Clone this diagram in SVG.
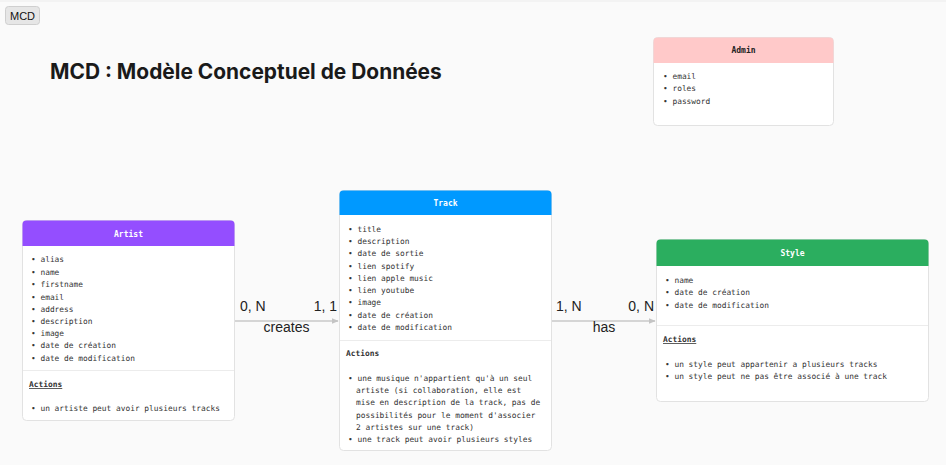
<svg xmlns="http://www.w3.org/2000/svg" width="946" height="465" viewBox="0 0 946 465">
<defs>
<marker id="arr" viewBox="0 0 10 10" refX="9" refY="5" markerWidth="7" markerHeight="7" orient="auto" markerUnits="userSpaceOnUse"><path d="M0,1 L10,5 L0,9 z" fill="#c4c4c4"/></marker>
</defs>
<style>
.card{fill:#fff;stroke:#e2e2e2;stroke-width:1}
.div{stroke:#ececec;stroke-width:1}
.hd{font-family:"DejaVu Sans Mono","Liberation Mono",monospace;font-size:8px;font-weight:bold;text-anchor:middle}
.it{font-family:"DejaVu Sans Mono","Liberation Mono",monospace;font-size:7.85px;fill:#333}
.act{font-family:"DejaVu Sans Mono","Liberation Mono",monospace;font-size:7.9px;font-weight:bold;fill:#333}
.u{text-decoration:underline}
.lbl{font-family:"Liberation Sans",Arial,sans-serif;font-size:14px;fill:#222}
.conn{stroke:#c8c8c8;stroke-width:1.5;fill:none}
</style>
<rect x="0" y="0" width="946" height="465" fill="#fafafa"/>
<line x1="0" y1="1" x2="946" y2="1" stroke="#ececec"/>
<g id="tab">
<rect x="5.5" y="6.5" width="34" height="18" rx="3" fill="#e6e6e6" stroke="#cfcfcf"/>
<text x="22.5" y="19.5" text-anchor="middle" font-family="Liberation Sans,Arial,sans-serif" font-size="11" fill="#111">MCD</text>
</g>
<g id="title">
<text x="50" y="79" font-family="Inter,'Liberation Sans',sans-serif" font-size="20.9" font-weight="700" fill="#1a1a1a">MCD : Modèle Conceptuel de Données</text>
</g>
<g id="admin">
<rect class="card" x="653.5" y="37.5" width="180" height="88" rx="4"/>
<path d="M653.5,63 V41.5 a4,4 0 0 1 4,-4 H829.5 a4,4 0 0 1 4,4 V63 z" fill="#ffc9c9"/>
<text class="hd" x="743.5" y="53" fill="#222">Admin</text>
<text class="it" x="663" y="79">• email</text>
<text class="it" x="663" y="91">• roles</text>
<text class="it" x="663" y="104">• password</text>
</g>
<g id="artist">
<rect class="card" x="22.5" y="220.5" width="212" height="200" rx="4"/>
<path d="M22.5,246 V224.5 a4,4 0 0 1 4,-4 H230.5 a4,4 0 0 1 4,4 V246 z" fill="#944eff"/>
<text class="hd" x="128.5" y="237" fill="#fff">Artist</text>
<text class="it" x="31" y="262">• alias</text>
<text class="it" x="31" y="275">• name</text>
<text class="it" x="31" y="287">• firstname</text>
<text class="it" x="31" y="300">• email</text>
<text class="it" x="31" y="312">• address</text>
<text class="it" x="31" y="324">• description</text>
<text class="it" x="31" y="336">• image</text>
<text class="it" x="31" y="348">• date de création</text>
<text class="it" x="31" y="361">• date de modification</text>
<line class="div" x1="23" y1="370.5" x2="234" y2="370.5"/>
<text class="act u" x="29" y="387">Actions</text>
<text class="it" x="31" y="411">• un artiste peut avoir plusieurs tracks</text>
</g>
<g id="track">
<rect class="card" x="339.5" y="190.5" width="212" height="260" rx="4"/>
<path d="M339.5,215 V194.5 a4,4 0 0 1 4,-4 H547.5 a4,4 0 0 1 4,4 V215 z" fill="#0099ff"/>
<text class="hd" x="445.5" y="206" fill="#fff">Track</text>
<text class="it" x="348" y="232">• title</text>
<text class="it" x="348" y="244">• description</text>
<text class="it" x="348" y="256">• date de sortie</text>
<text class="it" x="348" y="269">• lien spotify</text>
<text class="it" x="348" y="281">• lien apple music</text>
<text class="it" x="348" y="293">• lien youtube</text>
<text class="it" x="348" y="305">• image</text>
<text class="it" x="348" y="318">• date de création</text>
<text class="it" x="348" y="330">• date de modification</text>
<line class="div" x1="340" y1="340.5" x2="551" y2="340.5"/>
<text class="act" x="346" y="356">Actions</text>
<text class="it" x="348" y="381">• une musique n'appartient qu'à un seul</text>
<text class="it" x="356" y="393">artiste (si collaboration, elle est</text>
<text class="it" x="356" y="405">mise en description de la track, pas de</text>
<text class="it" x="356" y="418">possibilités pour le moment d'associer</text>
<text class="it" x="356" y="430">2 artistes sur une track)</text>
<text class="it" x="348" y="442">• une track peut avoir plusieurs styles</text>
</g>
<g id="style">
<rect class="card" x="656.5" y="239.5" width="272" height="162" rx="4"/>
<path d="M656.5,266 V243.5 a4,4 0 0 1 4,-4 H924.5 a4,4 0 0 1 4,4 V266 z" fill="#2bae5f"/>
<text class="hd" x="792.5" y="256" fill="#fff">Style</text>
<text class="it" x="665" y="283">• name</text>
<text class="it" x="665" y="295">• date de création</text>
<text class="it" x="665" y="308">• date de modification</text>
<line class="div" x1="657" y1="325.5" x2="928" y2="325.5"/>
<text class="act u" x="663" y="342">Actions</text>
<text class="it" x="665" y="367">• un style peut appartenir a plusieurs tracks</text>
<text class="it" x="665" y="379">• un style peut ne pas être associé à une track</text>
</g>
<g id="connectors">
<line class="conn" x1="235" y1="321" x2="338" y2="321" marker-end="url(#arr)"/>
<text class="lbl" x="240" y="311">0, N</text>
<text class="lbl" x="337" y="311" text-anchor="end">1, 1</text>
<text class="lbl" x="286.5" y="332" text-anchor="middle">creates</text>
<line class="conn" x1="552" y1="321" x2="655" y2="321" marker-end="url(#arr)"/>
<text class="lbl" x="556" y="311">1, N</text>
<text class="lbl" x="654" y="311" text-anchor="end">0, N</text>
<text class="lbl" x="604" y="332" text-anchor="middle">has</text>
</g>
</svg>
